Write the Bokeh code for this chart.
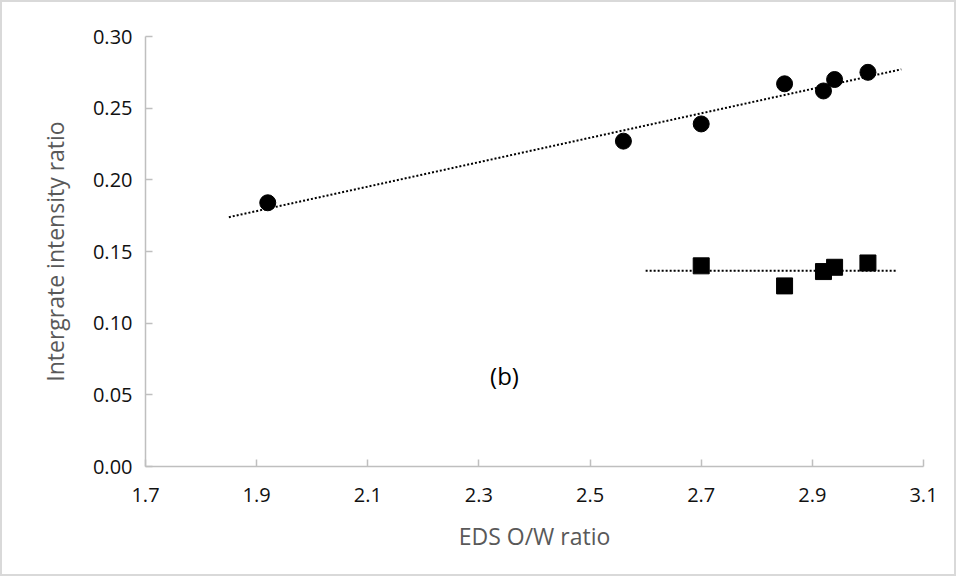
import numpy as np
from bokeh.plotting import figure
from bokeh.models import FixedTicker, NumeralTickFormatter, Range1d, Label
from bokeh.embed import file_html
from bokeh.resources import INLINE

# ---- data ----
circle_x = [1.92, 2.56, 2.70, 2.85, 2.92, 2.94, 3.00]
circle_y = [0.184, 0.227, 0.239, 0.267, 0.262, 0.270, 0.275]
square_x = [2.70, 2.85, 2.92, 2.94, 3.00]
square_y = [0.140, 0.126, 0.136, 0.139, 0.142]
circle_trend_span = [1.85, 3.06]
square_trend_span = [2.60, 3.05]
x_ticks = [1.7, 1.9, 2.1, 2.3, 2.5, 2.7, 2.9, 3.1]
y_ticks = [0.00, 0.05, 0.10, 0.15, 0.20, 0.25, 0.30]
x_title = "EDS O/W ratio"
y_title = "Intergrate intensity ratio"
panel_label = "(b)"

FONT = "Open Sans"

p = figure(width=956, height=576, output_backend="svg", toolbar_location=None,
           x_range=Range1d(1.7, 3.1), y_range=Range1d(0.0, 0.30),
           min_border_left=143, min_border_right=35, min_border_top=34, min_border_bottom=112)
p.styles = {"border": "2px solid #d9d9d9"}
p.outline_line_color = None
p.grid.visible = False
p.background_fill_color = "white"
p.border_fill_color = "white"

for ax in (p.xaxis[0], p.yaxis[0]):
    ax.axis_line_color = "#bfbfbf"
    ax.axis_line_width = 1.5
    ax.major_tick_line_color = "#bfbfbf"
    ax.major_tick_line_width = 1.5
    ax.major_tick_in = 7
    ax.major_tick_out = 0
    ax.minor_tick_line_color = None
    ax.major_label_text_font = FONT
    ax.major_label_text_font_size = "20px"
    ax.major_label_text_color = "#111111"
    ax.axis_label_text_font = FONT
    ax.axis_label_text_font_size = "23px"
    ax.axis_label_text_font_style = "normal"
    ax.axis_label_text_color = "#595959"

p.xaxis.ticker = FixedTicker(ticks=x_ticks)
p.yaxis.ticker = FixedTicker(ticks=y_ticks)
p.xaxis.formatter = NumeralTickFormatter(format="0.0")
p.yaxis.formatter = NumeralTickFormatter(format="0.00")
p.xaxis.axis_label = x_title
p.yaxis.axis_label = y_title
p.xaxis.major_label_standoff = 21
p.yaxis.major_label_standoff = 13
p.xaxis.axis_label_standoff = 15
p.yaxis.axis_label_standoff = 19

# trend lines
c_fit = np.polyfit(circle_x, circle_y, 1)
cx = np.array(circle_trend_span)
p.line(cx, np.polyval(c_fit, cx), line_color="black", line_width=2, line_dash="2 2")

s_level = float(np.mean(square_y))
sx = np.array(square_trend_span)
p.line(sx, [s_level, s_level], line_color="black", line_width=2, line_dash="2 2")

# markers
p.scatter(circle_x, circle_y, marker="circle", size=16, fill_color="black", line_color="black")
p.scatter(square_x, square_y, marker="square", size=16, fill_color="black", line_color="black")

p.add_layout(Label(x=2.346, y=0.0635, text=panel_label, text_font=FONT,
                   text_font_size="24px", text_color="black",
                   text_align="center", text_baseline="middle"))

open("out.html", "w").write(file_html(p, INLINE))
